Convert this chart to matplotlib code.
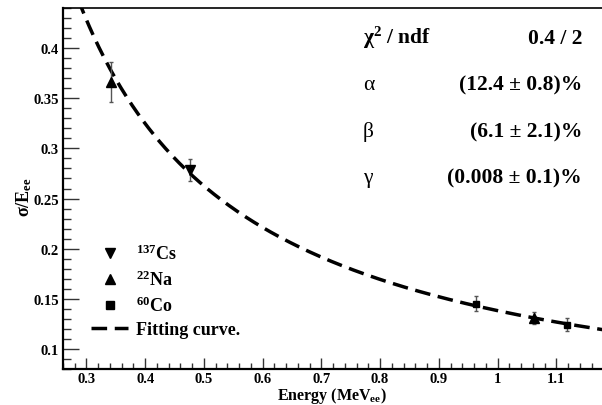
import numpy as np
import matplotlib
matplotlib.use("Agg")
from matplotlib import pyplot as plt
from matplotlib.lines import Line2D
from matplotlib.ticker import MultipleLocator

plt.rcParams['font.family'] = 'Liberation Serif'
plt.rcParams['font.weight'] = 'bold'
plt.rcParams['axes.labelweight'] = 'bold'
plt.rcParams['mathtext.fontset'] = 'custom'
plt.rcParams['mathtext.rm'] = 'Liberation Serif:bold'
plt.rcParams['mathtext.bf'] = 'Liberation Serif:bold'
plt.rcParams['mathtext.it'] = 'Liberation Serif:bold'
plt.rcParams['mathtext.default'] = 'rm'

# Compton edge energies (MeV_ee) and resolution for each source
cs_energy = [0.477]
cs_res = [0.278]
cs_err = [0.011]

na_energy = [0.341, 1.062]
na_res = [0.366, 0.131]
na_err = [0.020, 0.006]

co_energy = [0.963, 1.118]
co_res = [0.145, 0.124]
co_err = [0.0075, 0.0065]

# fit parameters: sigma/E = sqrt((alpha/E)^2 + beta^2/E + gamma^2)
alpha = 0.124
beta = 0.061
gamma = 0.00008
fit_rows = [
    (r'$\chi^{2}$ / ndf', '0.4 / 2'),
    ('α', '(12.4 ± 0.8)%'),
    ('β', '(6.1 ± 2.1)%'),
    ('γ', '(0.008 ± 0.1)%'),
]

fig = plt.figure(figsize=(6.02, 4.06), dpi=100)
ax = fig.add_axes([63 / 602, 36 / 406, 552 / 602, 361 / 406])

e = np.linspace(0.26, 1.2, 400)
curve = np.sqrt((alpha / e) ** 2 + beta ** 2 / e + gamma ** 2)
ax.plot(e, curve, color='black', lw=2.5, dashes=(4.5, 2.2), zorder=2)

err_style = dict(ecolor='#555555', elinewidth=1.0, capsize=1.5, capthick=1.0,
                 linestyle='none', color='black', zorder=3)
ax.errorbar(cs_energy, cs_res, yerr=cs_err, marker='v', ms=7, **err_style)
ax.errorbar(na_energy, na_res, yerr=na_err, marker='^', ms=7, **err_style)
ax.errorbar(co_energy, co_res, yerr=co_err, marker='s', ms=5, **err_style)

ax.set_xlim(0.26, 1.2)
ax.set_ylim(0.08, 0.44)
ax.xaxis.set_major_locator(MultipleLocator(0.1))
ax.xaxis.set_minor_locator(MultipleLocator(0.02))
ax.yaxis.set_major_locator(MultipleLocator(0.05))
ax.yaxis.set_minor_locator(MultipleLocator(0.01))
# the 1.2 tick sits past the right edge of the canvas
ax.xaxis.set_major_formatter(plt.FuncFormatter(lambda v, p: f'{v:g}' if v < 1.15 else ''))
ax.yaxis.set_major_formatter(plt.FuncFormatter(lambda v, p: f'{v:g}'))

ax.tick_params(which='both', direction='in', top=False, right=False,
               labelsize=10.5, color='#333333', width=1.0)
ax.tick_params(axis='y', which='major', length=11.5, pad=3)
ax.tick_params(axis='y', which='minor', length=5.8)
ax.tick_params(axis='x', which='major', length=8, pad=2)
ax.tick_params(axis='x', which='minor', length=4.3)
for side in ['left', 'bottom']:
    ax.spines[side].set_linewidth(1.6)
ax.spines['top'].set_linewidth(1.2)
ax.spines['right'].set_visible(False)

ax.set_xlabel('Energy (MeV$_{ee}$)', fontsize=11.5)
ax.xaxis.set_label_coords(0.488, -0.043)
ax.set_ylabel('σ/E$_{ee}$', fontsize=13)
ax.yaxis.set_label_coords(-0.053, 0.48)

handles = [
    Line2D([], [], color='black', marker='v', ms=7, linestyle='none'),
    Line2D([], [], color='black', marker='^', ms=7, linestyle='none'),
    Line2D([], [], color='black', marker='s', ms=5.8, linestyle='none'),
    Line2D([], [], color='black', lw=2.5, dashes=(4.5, 2.2)),
]
labels = ['$^{137}$Cs', '$^{22}$Na', '$^{60}$Co', 'Fitting curve.']
ax.legend(handles, labels, loc='upper left', bbox_to_anchor=(28 / 552, (370 - 245) / 361),
          frameon=False, fontsize=13, handlelength=2.05, handletextpad=0.45,
          labelspacing=0.35, borderpad=0, borderaxespad=0)

for i, (name, value) in enumerate(fit_rows):
    y = 1 - (44 + 46.5 * i) / 406
    fig.text(363 / 602, y, name, fontsize=15.5, ha='left', va='baseline',
             fontweight='normal' if i else 'bold')
    fig.text(582 / 602, y, value, fontsize=15.5, ha='right', va='baseline')

fig.savefig('out.png', dpi=100)
